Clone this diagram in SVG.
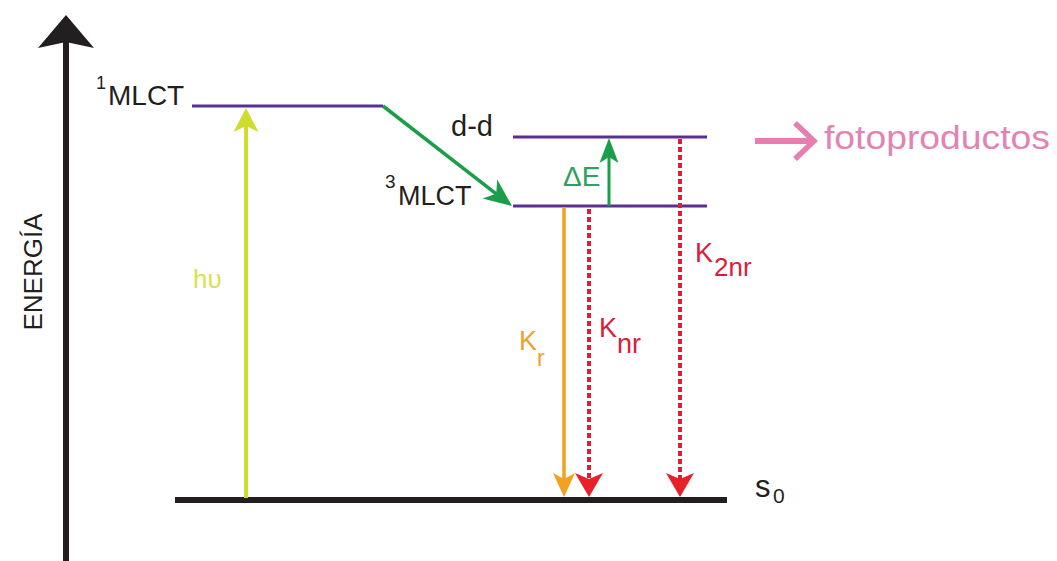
<svg xmlns="http://www.w3.org/2000/svg" width="1057" height="561" viewBox="0 0 1057 561">
<style>
text{font-family:"Liberation Sans",Arial,sans-serif}
.lvl{stroke:#5c2e91;stroke-width:3;fill:none}
.dot{stroke:#d8203a;stroke-width:4;stroke-dasharray:5 3;fill:none}
</style>
<defs>
<marker id="hY" viewBox="-26 -14 28 28" markerWidth="28" markerHeight="28" refX="-18" refY="0" orient="auto" markerUnits="userSpaceOnUse"><path d="M0,0 L-24,-12.5 L-18,0 L-24,12.5 Z" fill="#cfdc2e"/></marker>
<marker id="hG" viewBox="-30 -14 32 28" markerWidth="32" markerHeight="28" refX="-20" refY="0" orient="auto" markerUnits="userSpaceOnUse"><path d="M0,0 L-28,-12 L-20,0 L-28,12 Z" fill="#1a9e4a"/></marker>
<marker id="hG2" viewBox="-26 -11 28 22" markerWidth="28" markerHeight="22" refX="-19" refY="0" orient="auto" markerUnits="userSpaceOnUse"><path d="M0,0 L-25,-9.5 L-19,0 L-25,9.5 Z" fill="#1a9e4a"/></marker>
<marker id="hO" viewBox="-26 -13 28 26" markerWidth="28" markerHeight="26" refX="-18" refY="0" orient="auto" markerUnits="userSpaceOnUse"><path d="M0,0 L-24,-11 L-18,0 L-24,11 Z" fill="#f4a020"/></marker>
<marker id="hR" viewBox="-26 -15 28 30" markerWidth="28" markerHeight="30" refX="-18" refY="0" orient="auto" markerUnits="userSpaceOnUse"><path d="M0,0 L-24,-14 L-18,0 L-24,14 Z" fill="#e8202a"/></marker>
</defs>

<g id="axis">
<line x1="66" y1="42" x2="66" y2="561" stroke="#231f20" stroke-width="6"/>
<path d="M66,15 L94,48 L66,42 L38,48 Z" fill="#231f20"/>
<text x="42" y="272" font-size="26" fill="#231f20" text-anchor="middle" transform="rotate(-90 42 272)">ENERGÍA</text>
</g>

<g id="level-1MLCT">
<line class="lvl" x1="192" y1="106" x2="383" y2="106"/>
<text x="96" y="89" font-size="18" fill="#231f20">1</text>
<text x="108" y="105" font-size="28" fill="#231f20">MLCT</text>
</g>

<g id="level-dd">
<line class="lvl" x1="513" y1="137" x2="707" y2="137"/>
<text x="451" y="136" font-size="29" fill="#231f20">d-d</text>
</g>

<g id="level-3MLCT">
<line class="lvl" x1="513" y1="206" x2="707" y2="206"/>
<text x="385" y="188" font-size="19" fill="#231f20">3</text>
<text x="398" y="205" font-size="27" fill="#231f20">MLCT</text>
</g>

<g id="level-S0">
<line x1="175" y1="500" x2="727" y2="500" stroke="#231f20" stroke-width="6"/>
<text x="755" y="497" font-size="31" fill="#231f20">s</text>
<text x="773" y="503" font-size="21" fill="#231f20">0</text>
</g>

<g id="fotoproductos">
<text x="824" y="149" font-size="34" fill="#e283b3" textLength="226" lengthAdjust="spacingAndGlyphs">fotoproductos</text>
</g>

<g id="connectors">
<line x1="246" y1="498" x2="246" y2="126" stroke="#cfdc2e" stroke-width="4" marker-end="url(#hY)"/>
<text x="193" y="288" font-size="26" fill="#d6e34a">hυ</text>

<line x1="383" y1="106" x2="496.2" y2="193.8" stroke="#1a9e4a" stroke-width="3.5" marker-end="url(#hG)"/>

<line x1="609" y1="206" x2="609" y2="157" stroke="#1a9e4a" stroke-width="3" marker-end="url(#hG2)"/>
<text x="563" y="186" font-size="28" fill="#2ca25f">ΔE</text>

<line x1="564" y1="207" x2="564" y2="479" stroke="#f4a020" stroke-width="3.5" marker-end="url(#hO)"/>
<text x="519" y="350" font-size="27" fill="#f0a030">K</text>
<text x="537" y="366" font-size="23" fill="#f0a030">r</text>

<line class="dot" x1="589" y1="209" x2="589" y2="479" marker-end="url(#hR)"/>
<text x="599" y="337" font-size="27" fill="#d8203a">K</text>
<text x="617" y="353" font-size="27" fill="#d8203a">nr</text>

<line class="dot" x1="680" y1="139" x2="680" y2="479" marker-end="url(#hR)"/>
<text x="695" y="262" font-size="27" fill="#d8203a">K</text>
<text x="714" y="276" font-size="26" fill="#d8203a">2nr</text>

<line x1="755" y1="141" x2="812" y2="141" stroke="#e87db0" stroke-width="6"/>
<polyline points="795,123 814,141 795,159" fill="none" stroke="#e87db0" stroke-width="5.5"/>
</g>
</svg>
